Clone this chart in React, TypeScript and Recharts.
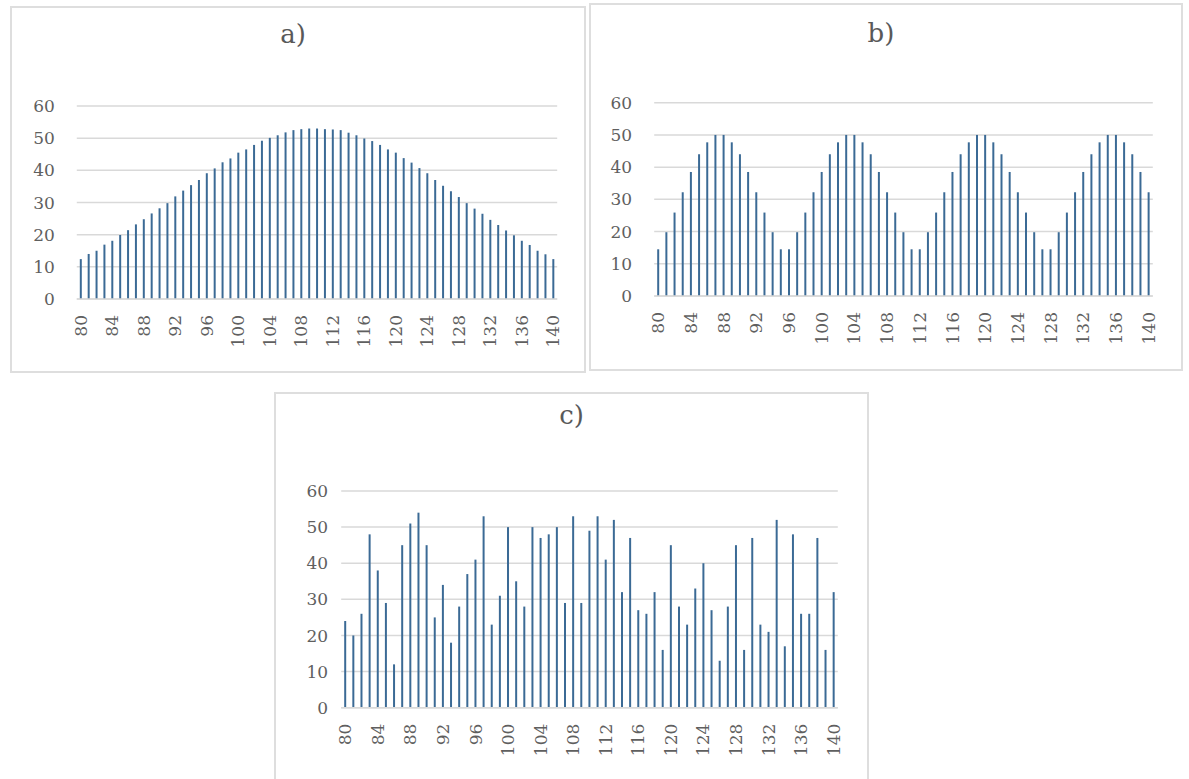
import { Bar, BarChart, CartesianGrid, XAxis, YAxis } from "recharts";

// x categories shared by all three panels
const CATEGORIES = [
  80, 81, 82, 83, 84, 85, 86, 87, 88, 89,
  90, 91, 92, 93, 94, 95, 96, 97, 98, 99,
  100, 101, 102, 103, 104, 105, 106, 107, 108, 109,
  110, 111, 112, 113, 114, 115, 116, 117, 118, 119,
  120, 121, 122, 123, 124, 125, 126, 127, 128, 129,
  130, 131, 132, 133, 134, 135, 136, 137, 138, 139,
  140,
];

// a) bell shaped
const VALUES_A = [
  12.4, 14.0, 15.0, 16.9, 18.1, 19.9, 21.4, 23.2, 24.8, 26.6,
  28.2, 29.8, 31.9, 33.7, 35.4, 37.0, 39.1, 40.6, 42.5, 43.7,
  45.5, 46.5, 47.9, 49.2, 50.1, 50.9, 51.8, 52.5, 52.8, 53.0,
  53.0, 52.8, 52.7, 52.5, 51.7, 50.9, 49.9, 49.1, 47.9, 46.5,
  45.5, 43.8, 42.4, 40.7, 39.1, 37.0, 35.2, 33.5, 31.7, 29.8,
  28.1, 26.5, 24.6, 23.0, 21.3, 19.8, 18.1, 16.8, 15.0, 13.9,
  12.4,
];

// b) periodic
const VALUES_B = [
  14.5, 19.8, 25.9, 32.2, 38.5, 44, 47.7, 50, 50, 47.7,
  44, 38.5, 32.2, 25.9, 19.8, 14.5, 14.5, 19.8, 25.9, 32.2,
  38.5, 44, 47.7, 50, 50, 47.7, 44, 38.5, 32.2, 25.9,
  19.8, 14.5, 14.5, 19.8, 25.9, 32.2, 38.5, 44, 47.7, 50,
  50, 47.7, 44, 38.5, 32.2, 25.9, 19.8, 14.5, 14.5, 19.8,
  25.9, 32.2, 38.5, 44, 47.7, 50, 50, 47.7, 44, 38.5,
  32.2,
];

// c) irregular
const VALUES_C = [
  24, 20, 26, 48, 38, 29, 12, 45, 51, 54,
  45, 25, 34, 18, 28, 37, 41, 53, 23, 31,
  50, 35, 28, 50, 47, 48, 50, 29, 53, 29,
  49, 53, 41, 52, 32, 47, 27, 26, 32, 16,
  45, 28, 23, 33, 40, 27, 13, 28, 45, 16,
  47, 23, 21, 52, 17, 48, 26, 26, 47, 16,
  32,
];

const Y_TICKS = [0, 10, 20, 30, 40, 50, 60];

const BAR_COLOR = "#3b6a95";
const GRID_COLOR = "#d9d9d9";
const TEXT_COLOR = "#5f5f5f";
const FONT = "'DejaVu Serif', serif";

const Y_AXIS_W = 50;
const X_AXIS_H = 60;

function RotatedTick({ x, y, payload }: { x?: number; y?: number; payload?: { value: number } }) {
  return (
    <text
      x={x}
      y={y}
      transform={`rotate(-90 ${x} ${y})`}
      textAnchor="end"
      dominantBaseline="central"
      fill={TEXT_COLOR}
      fontSize={17}
      fontFamily={FONT}
    >
      {payload?.value}
    </text>
  );
}

type PanelProps = {
  title: string;
  values: number[];
  box: { left: number; top: number; width: number; height: number };
  plot: { left: number; right: number; top: number; bottom: number };
  titleTop: number;
  titleShift: number;
  yLabelGap: number;
};

function Panel({ title, values, box, plot, titleTop, titleShift, yLabelGap }: PanelProps) {
  const data = CATEGORIES.map((c, i) => ({ x: c, v: values[i] }));
  const margin = {
    top: plot.top - box.top,
    left: plot.left - box.left - Y_AXIS_W,
    right: box.left + box.width - plot.right,
    bottom: box.top + box.height - plot.bottom - X_AXIS_H,
  };
  return (
    <>
      <div
        style={{
          position: "absolute",
          left: box.left,
          top: box.top,
          width: box.width - 4,
          height: box.height - 4,
          border: "2px solid #dedede",
        }}
      />
      <div
        style={{
          position: "absolute",
          left: box.left + titleShift,
          top: titleTop,
          width: box.width,
          textAlign: "center",
          fontFamily: FONT,
          fontSize: 26,
          lineHeight: "30px",
          color: "#595959",
        }}
      >
        {title}
      </div>
      <div style={{ position: "absolute", left: box.left, top: box.top }}>
        <BarChart width={box.width} height={box.height} data={data} margin={margin}>
          <CartesianGrid vertical={false} stroke={GRID_COLOR} strokeWidth={1.5} />
          <XAxis
            dataKey="x"
            interval={3}
            height={X_AXIS_H}
            tickSize={0}
            tickMargin={16}
            tick={<RotatedTick />}
            axisLine={{ stroke: GRID_COLOR, strokeWidth: 1.5 }}
            tickLine={false}
          />
          <YAxis
            domain={[0, 60]}
            ticks={Y_TICKS}
            width={Y_AXIS_W}
            tickSize={0}
            tickMargin={yLabelGap}
            tick={{ fill: TEXT_COLOR, fontSize: 17, fontFamily: FONT }}
            axisLine={false}
            tickLine={false}
          />
          <Bar dataKey="v" fill={BAR_COLOR} barSize={2} isAnimationActive={false} />
        </BarChart>
      </div>
    </>
  );
}

export default function App() {
  return (
    <div
      style={{
        position: "absolute",
        left: 0,
        top: 0,
        width: 1189,
        height: 779,
        overflow: "hidden",
        background: "#ffffff",
      }}
    >
      <Panel
        title="a)"
        values={VALUES_A}
        box={{ left: 10, top: 6, width: 576, height: 367 }}
        plot={{ left: 76.8, right: 557.2, top: 106, bottom: 299 }}
        titleTop={19}
        titleShift={-5}
        yLabelGap={22}
      />
      <Panel
        title="b)"
        values={VALUES_B}
        box={{ left: 589, top: 3, width: 594, height: 368 }}
        plot={{ left: 654.2, right: 1152.8, top: 102.7, bottom: 296 }}
        titleTop={18}
        titleShift={-5}
        yLabelGap={22}
      />
      <Panel
        title="c)"
        values={VALUES_C}
        box={{ left: 274, top: 392, width: 595, height: 395 }}
        plot={{ left: 341.2, right: 837.8, top: 491, bottom: 707.7 }}
        titleTop={400}
        titleShift={0}
        yLabelGap={13}
      />
    </div>
  );
}
